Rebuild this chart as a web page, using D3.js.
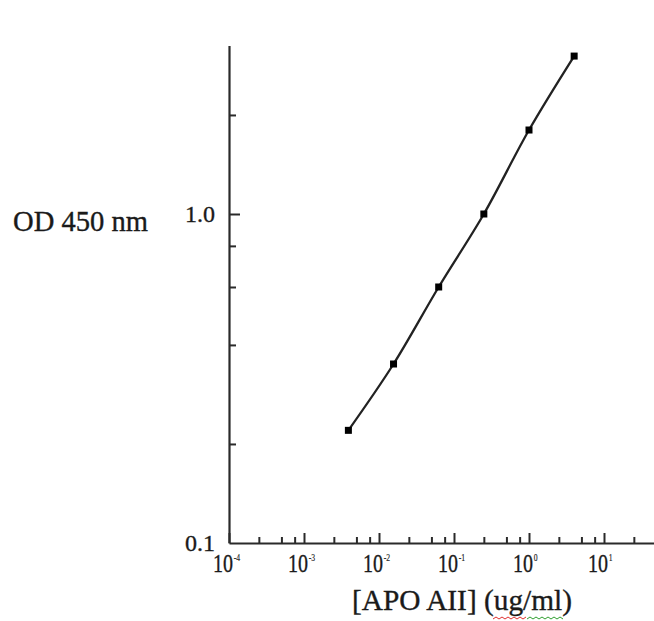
<!DOCTYPE html>
<html>
<head>
<meta charset="utf-8">
<script src="https://cdn.jsdelivr.net/npm/d3@7"></script>
<style>
  body { margin: 0; background: #fff; }
  text { font-family: "Liberation Serif", "Times New Roman", serif; fill: #1a1a1a; stroke: #1a1a1a; stroke-width: 0.35px; }
</style>
</head>
<body>
<div id="chart"></div>
<script>
// 標準曲線のデータ（4倍希釈）
const concentration = [0.00390625, 0.015625, 0.0625, 0.25, 1, 4];
const od450 = [0.22, 0.35, 0.60, 1.00, 1.80, 3.02];

// 目盛り
const xMajor = [1e-4, 1e-3, 1e-2, 1e-1, 1, 10];
const xExponents = ["-4", "-3", "-2", "-1", "0", "1"];
const xMinorSteps = [2.5, 5, 7.5];
const yLabeled = [0.1, 1.0];
const yLabelText = ["0.1", "1.0"];
const yMinor = [0.2, 0.4, 0.6, 0.8, 2.0];

const width = 654;
const height = 621;

const svg = d3.select("#chart")
  .append("svg")
  .attr("width", width)
  .attr("height", height);

// スケール（対数）
const x = d3.scaleLog()
  .domain([1e-4, 50])
  .range([229, 229 + 75 * Math.log10(5e5)]);

const y = d3.scaleLog()
  .domain([0.1, 3.25])
  .range([543, 543 - 329 * Math.log10(32.5)]);

const xMinor = [];
xMajor.forEach(d => {
  xMinorSteps.forEach(s => {
    if (d * s < 50) xMinor.push(d * s);
  });
});

// X軸（目盛りは内向き）
svg.append("g")
  .attr("transform", "translate(0,543)")
  .call(d3.axisBottom(x).tickValues(xMajor).tickSizeInner(-10).tickSizeOuter(0).tickFormat(""));

svg.append("g")
  .attr("transform", "translate(0,543)")
  .call(d3.axisBottom(x).tickValues(xMinor).tickSizeInner(-6).tickSizeOuter(0).tickFormat(""))
  .select(".domain").remove();

// Y軸
svg.append("g")
  .attr("transform", "translate(229,0)")
  .call(d3.axisLeft(y).tickValues([1.0]).tickSizeInner(-11).tickSizeOuter(0).tickFormat(""));

svg.append("g")
  .attr("transform", "translate(229,0)")
  .call(d3.axisLeft(y).tickValues(yMinor).tickSizeInner(-7).tickSizeOuter(0).tickFormat(""))
  .select(".domain").remove();

svg.selectAll(".domain")
  .attr("stroke", "#2a2a2a")
  .attr("stroke-width", 2.2);
svg.selectAll(".tick line")
  .attr("stroke", "#2a2a2a")
  .attr("stroke-width", 2);

// X軸ラベル 10^n（横に少し詰めた書体）
const xLab = svg.selectAll(".xlab")
  .data(xMajor)
  .enter()
  .append("text")
  .attr("class", "xlab")
  .attr("transform", d => `translate(${x(d) - 16},572) scale(0.77,1)`);

xLab.append("tspan")
  .attr("font-size", "26px")
  .text("10");

xLab.append("tspan")
  .attr("dx", 1)
  .attr("dy", -11)
  .attr("font-size", "10px")
  .style("stroke-width", "0.15px")
  .text((d, i) => xExponents[i]);

// Y軸ラベル
svg.selectAll(".ylab")
  .data(yLabeled)
  .enter()
  .append("text")
  .attr("class", "ylab")
  .attr("x", 215)
  .attr("y", d => y(d) + 8)
  .attr("text-anchor", "end")
  .attr("font-size", "24px")
  .text((d, i) => yLabelText[i]);

// 軸タイトル
svg.append("text")
  .attr("x", 13)
  .attr("y", 231)
  .attr("font-size", "28.5px")
  .attr("textLength", 135)
  .attr("lengthAdjust", "spacingAndGlyphs")
  .text("OD 450 nm");

svg.append("text")
  .attr("x", 352)
  .attr("y", 610)
  .attr("font-size", "29px")
  .attr("textLength", 220)
  .attr("lengthAdjust", "spacingAndGlyphs")
  .text("[APO AII] (ug/ml)");

// スペルチェックの波線
function squiggle(x0, x1, yy) {
  let p = `M${x0},${yy}`;
  let up = true;
  for (let xx = x0 + 3; xx <= x1; xx += 3) {
    p += `L${xx},${yy + (up ? -2 : 0)}`;
    up = !up;
  }
  return p;
}
svg.append("path")
  .attr("d", squiggle(493, 527, 619))
  .attr("fill", "none")
  .attr("stroke", "#e03030")
  .attr("stroke-width", 1);
svg.append("path")
  .attr("d", squiggle(527, 563, 619))
  .attr("fill", "none")
  .attr("stroke", "#30a030")
  .attr("stroke-width", 1);

// 曲線
const points = concentration.map((c, i) => ({ c: c, od: od450[i] }));

const line = d3.line()
  .x(d => x(d.c))
  .y(d => y(d.od))
  .curve(d3.curveCatmullRom);

svg.append("path")
  .datum(points)
  .attr("d", line)
  .attr("fill", "none")
  .attr("stroke", "#222")
  .attr("stroke-width", 2.3);

svg.selectAll(".pt")
  .data(points)
  .enter()
  .append("rect")
  .attr("class", "pt")
  .attr("x", d => x(d.c) - 3.5)
  .attr("y", d => y(d.od) - 3.5)
  .attr("width", 7)
  .attr("height", 7)
  .attr("fill", "#000");
</script>
</body>
</html>
